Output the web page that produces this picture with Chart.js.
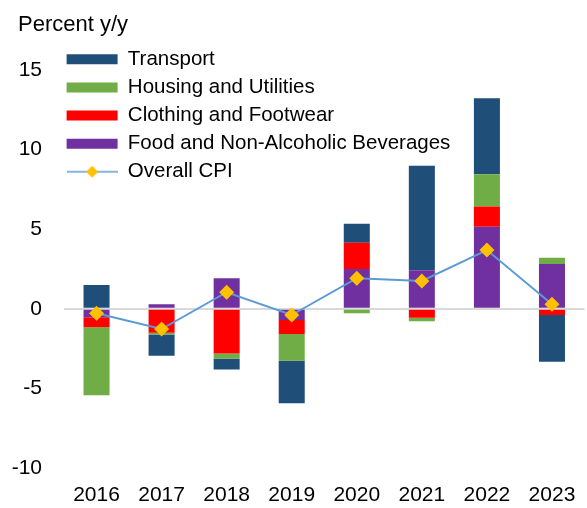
<!DOCTYPE html>
<html>
<head>
<meta charset="utf-8">
<script src="https://cdn.jsdelivr.net/npm/chart.js@4/dist/chart.umd.min.js"></script>
<style>
html, body { margin: 0; padding: 0; overflow: hidden; background: #fff; width: 587px; height: 508px; }
#wrap { width: 592px; height: 508px; }
</style>
</head>
<body>
<div id="wrap"><canvas id="c" width="592" height="508"></canvas></div>
<script>
const categories = ['2016', '2017', '2018', '2019', '2020', '2021', '2022', '2023'];
const transport = [1.49, -1.33, -0.69, -2.68, 1.19, 6.56, 4.77, -2.93];
const housing   = [-4.27, -0.12, -0.33, -1.68, -0.28, -0.21, 2.03, 0.40];
const clothing  = [-0.63, -1.50, -2.80, -0.88, 1.65, -0.57, 1.26, -0.39];
const food      = [-0.53, 0.28, 1.92, -0.70, 2.50, 2.42, 5.16, 2.81];
const overallCPI = [-0.28, -1.27, 1.04, -0.39, 1.92, 1.75, 3.69, 0.28];
const yTicks = [-10, -5, 0, 5, 10, 15];

const FONT = "'Liberation Sans', Arial, sans-serif";

// legend icon for the CPI line (line + diamond)
const cpiIcon = document.createElement('canvas');
cpiIcon.width = 51; cpiIcon.height = 14;
(function () {
  const g = cpiIcon.getContext('2d');
  g.strokeStyle = '#5B9BD5'; g.lineWidth = 1.5;
  g.beginPath(); g.moveTo(0, 7); g.lineTo(51, 7); g.stroke();
  g.fillStyle = '#FFC000';
  g.beginPath(); g.moveTo(25.5, 1); g.lineTo(31.5, 7); g.lineTo(25.5, 13); g.lineTo(19.5, 7); g.closePath(); g.fill();
})();

const legendRank = [3, 2, 1, 0, 4];

const boxMover = {
  id: 'boxMover',
  beforeDraw(chart) {
    if (chart.legend) {
      chart.legend.left = 59;
      chart.legend.top = 41.5;
    }
    if (chart.titleBlock) {
      chart.titleBlock.left = 18;
    }
  }
};

new Chart(document.getElementById('c'), {
  data: {
    labels: categories,
    datasets: [
      { type: 'bar', label: 'Food and Non-Alcoholic Beverages', data: food, backgroundColor: '#7030A0', stack: 'c' },
      { type: 'bar', label: 'Clothing and Footwear', data: clothing, backgroundColor: '#FF0000', stack: 'c' },
      { type: 'bar', label: 'Housing and Utilities', data: housing, backgroundColor: '#70AD47', stack: 'c' },
      { type: 'bar', label: 'Transport', data: transport, backgroundColor: '#1F4E79', stack: 'c' },
      { type: 'line', label: 'Overall CPI', data: overallCPI, stack: 'cpi', order: -1,
        borderColor: '#5B9BD5', backgroundColor: '#FFC000', borderWidth: 2,
        pointStyle: 'rectRot', pointRadius: 7.5, pointHoverRadius: 7.5,
        pointBackgroundColor: '#FFC000', pointBorderColor: '#FFC000', pointBorderWidth: 0,
        tension: 0, fill: false }
    ]
  },
  options: {
    responsive: false,
    animation: false,
    devicePixelRatio: 1,
    layout: { padding: { left: 0, right: 0, top: 0, bottom: 0 } },
    datasets: { bar: { categoryPercentage: 1.0, barPercentage: 0.4, borderWidth: 0 } },
    scales: {
      x: {
        stacked: true,
        afterFit(scale) { scale.height = 40; },
        grid: { display: false, drawTicks: false },
        border: { display: false },
        ticks: { color: '#000', font: { family: FONT, size: 21 }, padding: 14.4, maxRotation: 0 }
      },
      y: {
        stacked: true,
        min: -10, max: 15,
        afterBuildTicks(scale) { scale.ticks = yTicks.map(v => ({ value: v })); },
        afterFit(scale) { scale.width = 64; },
        grid: {
          drawTicks: false,
          color: (ctx) => (ctx.tick && ctx.tick.value === 0 ? '#D9D9D9' : 'rgba(0,0,0,0)'),
          lineWidth: 2
        },
        border: { display: false },
        ticks: { color: '#000', font: { family: FONT, size: 21 }, padding: 22 }
      }
    },
    plugins: {
      title: {
        display: true, text: 'Percent y/y', align: 'start', color: '#000',
        font: { family: FONT, size: 22, weight: 'normal' },
        padding: { top: 12, bottom: 31.6 }
      },
      legend: {
        position: 'chartArea', align: 'start',
        labels: {
          color: '#000', font: { family: FONT, size: 20.5 },
          usePointStyle: true, pointStyleWidth: 51, boxHeight: 10, padding: 7.6,
          sort: (a, b) => legendRank[a.datasetIndex] - legendRank[b.datasetIndex],
          generateLabels(chart) {
            const items = Chart.defaults.plugins.legend.labels.generateLabels(chart);
            items.forEach(it => {
              if (it.datasetIndex === 4) { it.pointStyle = cpiIcon; }
              else { it.pointStyle = 'rect'; it.lineWidth = 0; it.strokeStyle = 'rgba(0,0,0,0)'; }
            });
            return items;
          }
        }
      },
      tooltip: { enabled: false }
    }
  },
  plugins: [boxMover]
});
</script>
</body>
</html>
